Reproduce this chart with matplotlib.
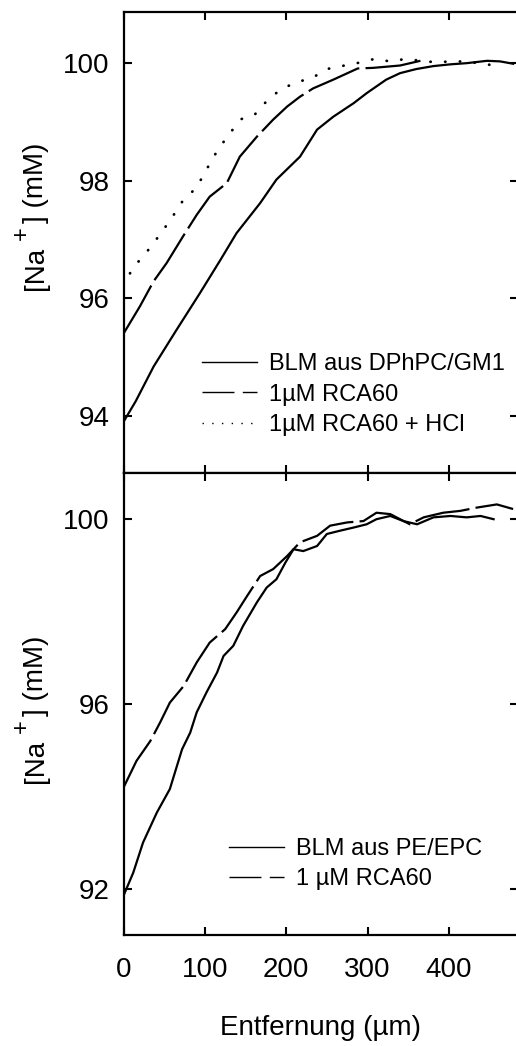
import matplotlib
matplotlib.use('Agg')
import matplotlib.pyplot as plt
from matplotlib.lines import Line2D

plt.rcParams['font.family'] = ['Liberation Sans', 'DejaVu Sans']

# top panel: BLM aus DPhPC/GM1
top_solid_x = [0, 15, 37, 65, 94, 119, 139, 168, 188, 217, 238, 258, 283, 299, 323, 340, 360, 381, 402, 422, 447, 463, 479]
top_solid_y = [93.9, 94.25, 94.84, 95.46, 96.09, 96.65, 97.11, 97.62, 98.02, 98.41, 98.87, 99.09, 99.32, 99.49,
               99.72, 99.83, 99.9, 99.95, 99.98, 100.0, 100.04, 100.03, 99.99]
top_dash_x = [0, 20, 37, 53, 73, 90, 106, 127, 143, 164, 184, 201, 217, 233, 258, 288, 307, 340, 365]
top_dash_y = [95.4, 95.86, 96.29, 96.6, 97.05, 97.42, 97.73, 97.96, 98.41, 98.75, 99.04, 99.26, 99.43, 99.57,
              99.72, 99.91, 99.92, 99.96, 100.04]
top_dot_x = [0, 11, 27, 44, 58, 72, 90, 102, 114, 129, 145, 161, 177, 193, 213, 231, 250, 268, 287, 308, 328,
             346, 380, 420, 462]
top_dot_y = [96.2, 96.51, 96.76, 97.07, 97.34, 97.64, 97.89, 98.19, 98.48, 98.78, 99.05, 99.12, 99.37, 99.55,
             99.68, 99.74, 99.9, 99.95, 100.0, 100.07, 100.03, 100.07, 100.02, 100.03, 99.95]

# bottom panel: BLM aus PE/EPC
bot_solid_x = [0, 12, 24, 41, 57, 72, 82, 90, 102, 115, 123, 135, 147, 164, 176, 188, 199, 209, 221, 238, 250,
               266, 283, 299, 311, 328, 344, 361, 381, 402, 422, 439, 455]
bot_solid_y = [91.85, 92.35, 93.0, 93.65, 94.16, 95.02, 95.38, 95.82, 96.25, 96.68, 97.04, 97.26, 97.69, 98.2,
               98.52, 98.7, 99.06, 99.35, 99.31, 99.42, 99.68, 99.75, 99.82, 99.89, 100.0, 100.07, 99.96, 99.89,
               100.04, 100.07, 100.04, 100.07, 100.0]
bot_dash_x = [0, 16, 33, 45, 57, 74, 90, 106, 125, 139, 152, 168, 184, 201, 217, 238, 254, 275, 295, 311, 328,
              352, 369, 393, 414, 434, 459, 479]
bot_dash_y = [94.19, 94.77, 95.2, 95.6, 96.03, 96.39, 96.9, 97.33, 97.62, 97.98, 98.34, 98.77, 98.92, 99.2, 99.5,
              99.64, 99.86, 99.93, 99.96, 100.14, 100.11, 99.89, 100.04, 100.14, 100.18, 100.25, 100.32, 100.22]

top_labels = ['BLM aus DPhPC/GM1', '1µM RCA60', '1µM RCA60 + HCl']
bot_labels = ['BLM aus PE/EPC', '1 µM RCA60']
xticks = [0, 100, 200, 300, 400]

W, H = 516, 1046
fig = plt.figure(figsize=(W / 100, H / 100), dpi=100)
left = 123.5 / W
right = 518 / W
ax1 = fig.add_axes([left, 1 - 473 / H, right - left, (473 - 12) / H])
ax2 = fig.add_axes([left, 1 - 935 / H, right - left, (935 - 473) / H])

lw = 1.6
dash = (0, (25, 2.8))
dot = (0, (0.1, 5.2))

ax1.plot(top_solid_x, top_solid_y, color='black', lw=lw)
ax1.plot(top_dash_x, top_dash_y, color='black', lw=lw, linestyle=dash)
ax1.plot(top_dot_x, top_dot_y, color='black', lw=2.0, linestyle=dot, dash_capstyle='round')
ax2.plot(bot_solid_x, bot_solid_y, color='black', lw=lw)
ax2.plot(bot_dash_x, bot_dash_y, color='black', lw=lw, linestyle=dash)

ax1.set_ylim(93.03, 100.87)
ax2.set_ylim(91.0, 101.0)
ax1.set_yticks([94, 96, 98, 100])
ax2.set_yticks([92, 96, 100])

for ax in (ax1, ax2):
    ax.set_xlim(0, 485)
    ax.set_xticks(xticks)
    ax.tick_params(direction='in', length=6, width=1.5, top=True, right=True, labelsize=20, pad=10)
    for s in ax.spines.values():
        s.set_linewidth(1.6)
ax1.tick_params(labelbottom=False)
ax2.tick_params(axis='x', pad=16)

ax2.set_xlabel('Entfernung (µm)', fontsize=20, labelpad=23)

# y labels built from pieces so the "+" can be large and raised
for y0 in (290, 783):
    fig.text(36 / W, 1 - y0 / H, '[Na', rotation=90, ha='center', va='bottom', fontsize=20)
    fig.text(22 / W, 1 - (y0 - 57) / H, '+', rotation=90, ha='center', va='center', fontsize=17)
    fig.text(36 / W, 1 - (y0 - 67) / H, '] (mM)', rotation=90, ha='center', va='bottom', fontsize=20)

# legend handles with shorter patterns, like in the original
h_solid = Line2D([], [], color='black', lw=1.0)
h_dash = Line2D([], [], color='black', lw=1.0, linestyle=(0, (23, 6)))
h_dot = Line2D([], [], color='black', lw=1.0, linestyle=(0, (1, 6)))

leg_kw = dict(frameon=False, fontsize=17, handlelength=2.35, handletextpad=0.5, labelspacing=0.36,
              borderpad=0, borderaxespad=0, loc='upper left')
ax1.legend([h_solid, h_dash, h_dot], top_labels, bbox_to_anchor=(202 / W, 1 - 353 / H),
           bbox_transform=fig.transFigure, **leg_kw)
ax2.legend([h_solid, h_dash], bot_labels, bbox_to_anchor=(229 / W, 1 - 838 / H),
           bbox_transform=fig.transFigure, **leg_kw)

fig.savefig('out.png', dpi=100)
